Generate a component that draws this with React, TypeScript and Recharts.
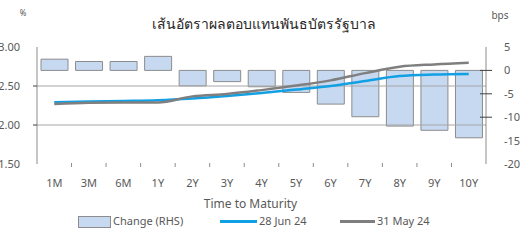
import React from 'react';
import { ComposedChart, Bar, Line, XAxis, YAxis, ReferenceLine, Legend, Label } from 'recharts';

const categories = ['1M', '3M', '6M', '1Y', '2Y', '3Y', '4Y', '5Y', '6Y', '7Y', '8Y', '9Y', '10Y'];
const change = [2.4, 1.9, 1.9, 3.0, -3.3, -2.4, -3.5, -4.7, -7.2, -9.9, -11.9, -12.8, -14.4];
const jun28 = [2.291, 2.301, 2.308, 2.317, 2.34, 2.372, 2.41, 2.455, 2.5, 2.564, 2.628, 2.647, 2.654];
const may31 = [2.27, 2.285, 2.29, 2.29, 2.367, 2.397, 2.447, 2.505, 2.572, 2.665, 2.747, 2.777, 2.798];
const leftTicks = [1.5, 2.0, 2.5, 3.0];
const rightTicks = [5, 0, -5, -10, -15, -20];

const data = categories.map((c, i) => ({ cat: c, change: change[i], jun: jun28[i], may: may31[i] }));

const W = 521;
const H = 240;
const LEFT_W = 37;
const RIGHT_W = 35;
const FONT = '"Noto Sans", "Open Sans", sans-serif';
const TXT = '#595959';
const AXIS = '#8c8c8c';
const BLUE = '#12a0e4';
const GREY = '#7f7f7f';
const BAR_FILL = '#c6d9f1';
const BAR_STROKE = '#8c8c8c';
const HALF_BAND = (W - LEFT_W - RIGHT_W) / categories.length / 2;

const XTick = (props: any) => {
  const { x, y, payload, index } = props;
  return (
    <g>
      {index < categories.length - 1 && (
        <line x1={x + HALF_BAND} x2={x + HALF_BAND} y1={y - 9} y2={y - 5} stroke={AXIS} strokeWidth={1} />
      )}
      <text x={x} y={y + 15} textAnchor="middle" fontSize={11} fill={TXT} fontFamily={FONT}>
        {payload.value}
      </text>
    </g>
  );
};

const LeftTick = (props: any) => {
  const { y, payload } = props;
  const v = payload.value;
  const axisX = LEFT_W;
  return (
    <g>
      {(v === 2.5 || v === 2.0) && <line x1={axisX - 4} x2={axisX} y1={y} y2={y} stroke="#404040" strokeWidth={1} />}
      <text x={axisX - 17} y={y + 4} textAnchor="end" fontSize={11} fill={TXT} fontFamily={FONT}>
        {v.toFixed(2)}
      </text>
    </g>
  );
};

const RightTick = (props: any) => {
  const { y, payload } = props;
  const v = payload.value;
  const axisX = W - RIGHT_W;
  return (
    <g>
      {(v === 0 || v === -5 || v === -10) && (
        <line x1={axisX - 6} x2={axisX + 6} y1={y} y2={y} stroke="#404040" strokeWidth={1} />
      )}
      <text x={axisX + 18} y={y + 4} textAnchor="start" fontSize={11} fill={TXT} fontFamily={FONT}>
        {v}
      </text>
    </g>
  );
};

const renderLegend = () => (
  <div style={{ position: 'relative', width: W, height: 14, fontFamily: FONT, fontSize: 11, lineHeight: '14px', color: TXT }}>
    <span style={{ position: 'absolute', left: 78, top: 2, width: 31, height: 10, background: BAR_FILL, border: `1px solid ${BAR_STROKE}` }} />
    <span style={{ position: 'absolute', left: 113, top: 0, whiteSpace: 'nowrap' }}>Change (RHS)</span>
    <span style={{ position: 'absolute', left: 220, top: 6, width: 37, height: 2.5, background: BLUE }} />
    <span style={{ position: 'absolute', left: 259, top: 0, whiteSpace: 'nowrap' }}>28 Jun 24</span>
    <span style={{ position: 'absolute', left: 340, top: 6, width: 35, height: 2.5, background: GREY }} />
    <span style={{ position: 'absolute', left: 377, top: 0, whiteSpace: 'nowrap' }}>31 May 24</span>
  </div>
);

export default function App() {
  return (
    <div style={{ position: 'absolute', left: 0, top: 0, width: W, height: H, background: '#fff' }}>
      <ComposedChart width={W} height={H} data={data} margin={{ top: 47, right: 0, bottom: 0, left: 0 }}>
        <text x={264} y={29} textAnchor="middle" fontSize={14} fill="#262626" fontFamily={FONT}>
          เส้นอัตราผลตอบแทนพันธบัตรรัฐบาล
        </text>
        <text x={23} y={16} textAnchor="middle" fontSize={8} fill={TXT} fontFamily={FONT}>
          %
        </text>
        <text x={500} y={19} textAnchor="middle" fontSize={10} fill={TXT} fontFamily={FONT}>
          bps
        </text>
        <XAxis
          dataKey="cat"
          height={76}
          axisLine={false}
          tickLine={false}
          interval={0}
          tick={<XTick />}
        >
          <Label value="Time to Maturity" position="insideBottom" offset={32} dx={-11} fontSize={12} fill={TXT} fontFamily={FONT} />
        </XAxis>
        <YAxis
          yAxisId="left"
          orientation="left"
          width={LEFT_W}
          domain={[1.5, 3]}
          ticks={leftTicks}
          axisLine={{ stroke: AXIS }}
          tickLine={false}
          tick={<LeftTick />}
        />
        <YAxis
          yAxisId="right"
          orientation="right"
          width={RIGHT_W}
          domain={[-20, 5]}
          ticks={rightTicks}
          axisLine={{ stroke: AXIS }}
          tickLine={false}
          tick={<RightTick />}
        />
        <ReferenceLine yAxisId="left" y={2.5} stroke="#a6a6a6" strokeWidth={1} />
        <ReferenceLine yAxisId="left" y={2.0} stroke="#a6a6a6" strokeWidth={1} />
        <Bar yAxisId="right" dataKey="change" name="Change (RHS)" fill={BAR_FILL} stroke={BAR_STROKE} strokeWidth={1} barSize={27} isAnimationActive={false} />
        <Line yAxisId="left" dataKey="jun" name="28 Jun 24" type="monotone" stroke={BLUE} strokeWidth={2.5} dot={false} isAnimationActive={false} />
        <Line yAxisId="left" dataKey="may" name="31 May 24" type="monotone" stroke={GREY} strokeWidth={2.5} dot={false} isAnimationActive={false} />
        <Legend
          layout="horizontal"
          verticalAlign="middle"
          align="center"
          wrapperStyle={{ top: 214, left: 0, width: W }}
          content={renderLegend}
        />
      </ComposedChart>
    </div>
  );
}
